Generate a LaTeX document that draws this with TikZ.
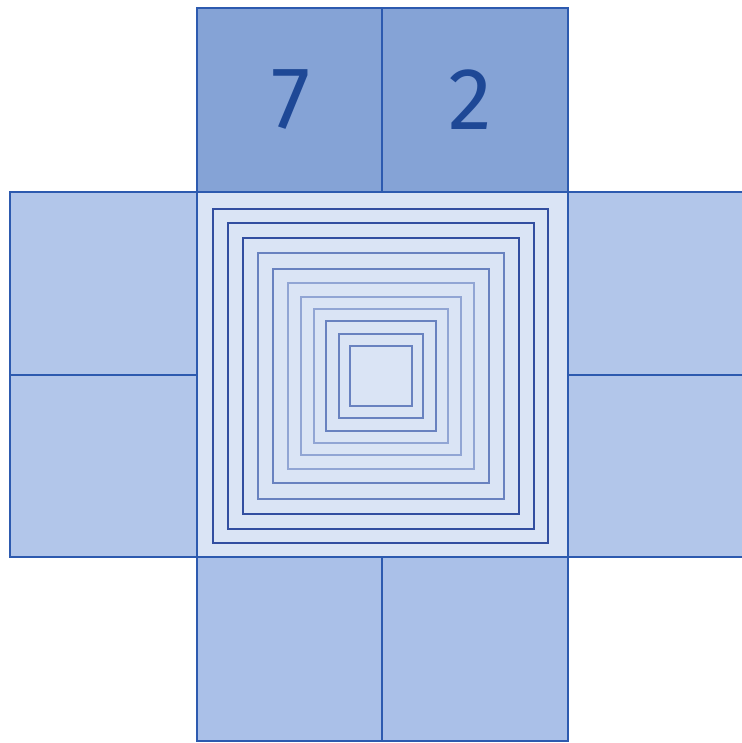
\documentclass[tikz,border=0pt]{standalone}
\usepackage{fontspec}
\setmainfont{Fira Sans}
\begin{document}
\begin{tikzpicture}[x=1pt,y=-1pt,
  edge/.style={draw=lineblue,line width=1.6pt},
  topbox/.style={fill=topfill,edge},
  sidebox/.style={fill=sidefill,edge},
  botbox/.style={fill=botfill,edge},
  ringdark/.style={draw=ringA,line width=2.2pt},
  ringmid/.style={draw=ringB,line width=1.6pt},
  ringlight/.style={draw=ringC,line width=1.4pt},
  digit/.style={text=digitblue,font=\fontsize{88}{88}\selectfont}]
\definecolor{lineblue}{RGB}{45,90,175}
\definecolor{topfill}{RGB}{133,163,214}
\definecolor{sidefill}{RGB}{178,198,234}
\definecolor{botfill}{RGB}{170,192,232}
\definecolor{centerfill}{RGB}{218,228,245}
\definecolor{ringA}{RGB}{50,78,160}
\definecolor{ringB}{RGB}{105,130,192}
\definecolor{ringC}{RGB}{145,165,212}
\definecolor{digitblue}{RGB}{30,72,150}
\useasboundingbox (0,0) rectangle (741,743);
\fill[white] (0,0) rectangle (741,743);
% top
\path[topbox] (197,8) rectangle (382,192);
\path[topbox] (382,8) rectangle (568,192);
% left
\path[sidebox] (10,192) rectangle (197,375);
\path[sidebox] (10,375) rectangle (197,557);
% right
\path[sidebox] (568,192) rectangle (745,375);
\path[sidebox] (568,375) rectangle (745,557);
% bottom
\path[botbox] (197,557) rectangle (382,741);
\path[botbox] (382,557) rectangle (568,741);
% centre
\path[fill=centerfill,edge] (197,192) rectangle (568,557);
\draw[ringdark] (213,209) rectangle (548,543);
\draw[ringdark] (228,223) rectangle (534,529);
\draw[ringdark] (243,238) rectangle (519,514);
\draw[ringmid] (258,253) rectangle (504,499);
\draw[ringmid] (273,269) rectangle (489,483);
\draw[ringlight] (288,283) rectangle (474,469);
\draw[ringlight] (301,297) rectangle (461,455);
\draw[ringlight] (314,309) rectangle (448,443);
\draw[ringmid] (326,321) rectangle (436,431);
\draw[ringmid] (339,334) rectangle (423,418);
\draw[ringmid] (350,346) rectangle (412,406);
\node[digit] (seven) at (291,100) {7};
\node[digit] (two) at (470,100) {2};
\end{tikzpicture}
\end{document}
